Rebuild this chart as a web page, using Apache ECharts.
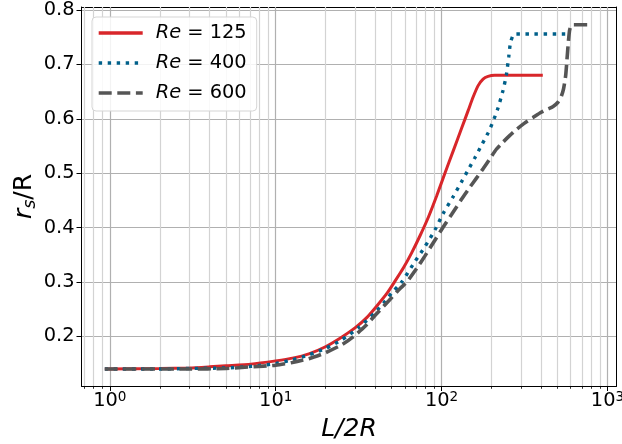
<!DOCTYPE html>
<html>
<head>
<meta charset="utf-8">
<script src="https://cdn.jsdelivr.net/npm/echarts@6/dist/echarts.min.js"></script>
<style>
html,body{margin:0;padding:0;background:#fff;}
#chart{width:622px;height:444px;}
</style>
</head>
<body>
<div id="chart"></div>
<script>
// ---- data ----
const seriesNames = ['125', '400', '600'];

const re125X = [0.933, 2.0, 3.02, 3.98, 5.01, 7.08, 10, 12.6, 15.85, 19.95, 25.1, 30.2, 35.5, 40.7, 46.8, 52.5, 58.9, 66.1, 74.1, 83.2, 93.3, 104.7, 117.5, 131.8, 144.5, 154.9, 166.0, 177.8, 190.5, 208.9, 407.4];
const re125Y = [0.140, 0.141, 0.142, 0.144, 0.146, 0.149, 0.155, 0.160, 0.168, 0.181, 0.199, 0.216, 0.235, 0.256, 0.279, 0.302, 0.326, 0.354, 0.385, 0.419, 0.458, 0.500, 0.541, 0.582, 0.615, 0.640, 0.661, 0.673, 0.678, 0.680, 0.680];

const re400X = [0.933, 2.0, 3.02, 5.01, 7.08, 10, 12.6, 15.85, 19.95, 25.1, 31.6, 39.8, 44.7, 50.1, 57.5, 69.2, 79.4, 91.2, 102.3, 117.5, 131.8, 144.5, 158.5, 173.8, 190.5, 204.2, 218.8, 234.4, 245.5, 254.1, 260.0, 269.2, 278.6, 575.4];
const re400Y = [0.140, 0.140, 0.141, 0.142, 0.145, 0.150, 0.157, 0.166, 0.178, 0.194, 0.216, 0.244, 0.261, 0.280, 0.300, 0.338, 0.365, 0.396, 0.426, 0.457, 0.484, 0.506, 0.528, 0.551, 0.574, 0.595, 0.620, 0.652, 0.680, 0.715, 0.740, 0.753, 0.756, 0.756];

const re600X = [0.933, 3.02, 5.01, 7.08, 10, 12.6, 15.85, 19.95, 25.1, 29.5, 34.7, 40.7, 47.9, 56.2, 61.7, 70.8, 79.4, 89.1, 102.3, 114.8, 131.8, 147.9, 162.2, 177.8, 195.0, 213.8, 234.4, 257.0, 281.8, 316.2, 354.8, 398.1, 436.5, 467.7, 501.2, 524.8, 543.3, 559.8, 570.2, 579.4, 590.2, 602.6, 623.7, 799.8];
const re600Y = [0.140, 0.140, 0.141, 0.144, 0.147, 0.152, 0.159, 0.170, 0.185, 0.200, 0.219, 0.242, 0.265, 0.288, 0.300, 0.325, 0.348, 0.372, 0.401, 0.424, 0.452, 0.474, 0.491, 0.508, 0.526, 0.544, 0.557, 0.569, 0.580, 0.592, 0.602, 0.612, 0.618, 0.622, 0.630, 0.640, 0.655, 0.680, 0.710, 0.737, 0.762, 0.771, 0.773, 0.773];

// tick positions
const majorTicksX = [1, 10, 100, 1000];
const minorTicksX = [0.7, 0.8, 0.9, 2, 3, 4, 5, 6, 7, 8, 9, 20, 30, 40, 50, 60, 70, 80, 90, 200, 300, 400, 500, 600, 700, 800, 900];
const ticksY = [0.2, 0.3, 0.4, 0.5, 0.6, 0.7, 0.8];

const xMin = 0.675, xMax = 1133;
const yMin = 0.1088, yMax = 0.8055;

const colors = ['#d8262a', '#00608a', '#555555'];

function zip(xs, ys) { return xs.map((x, i) => [x, ys[i]]); }

const FONT = 'DejaVu Sans';
const chart = echarts.init(document.getElementById('chart'), null, {renderer: 'canvas'});

function xLabel(v) {
  const l = Math.log10(v);
  const r = Math.round(l);
  if (Math.abs(l - r) > 1e-6) return '';
  return '{b|10}{s|' + r + '}';
}
function yLabel(v) {
  const t = v * 10;
  if (Math.abs(t - Math.round(t)) > 1e-6) return '';
  return v.toFixed(1);
}

const option = {
  animation: false,
  backgroundColor: '#ffffff',
  grid: {left: 81.5, right: 5.5, top: 7, bottom: 58, containLabel: false, outerBoundsMode: 'none'},
  legend: {
    left: 92, top: 17,
    orient: 'vertical',
    itemWidth: 44, itemHeight: 14, itemGap: 8,
    padding: [5, 10, 7, 5],
    backgroundColor: 'rgba(255,255,255,0.85)',
    borderColor: '#d5d5d5', borderWidth: 1, borderRadius: 4,
    data: seriesNames.map(n => 'Re = ' + n),
    itemStyle: {opacity: 0},
    lineStyle: {width: 3.4},
    formatter: function (name) { return '{i|Re} = ' + name.split('= ')[1]; },
    textStyle: {
      fontFamily: FONT, fontSize: 19.4, color: '#000', lineHeight: 22,
      padding: [0, 0, 0, 8],
      rich: {i: {fontFamily: FONT, fontSize: 19.4, fontStyle: 'italic', color: '#000', lineHeight: 22}}
    }
  },
  xAxis: [{
    type: 'log', logBase: 10, min: xMin, max: xMax,
    name: 'L/2R', nameLocation: 'middle', nameGap: 31, nameMoveOverlap: false,
    nameTextStyle: {fontFamily: FONT, fontSize: 25, fontStyle: 'italic', color: '#000'},
    axisLine: {show: true, onZero: false, lineStyle: {color: '#000', width: 1}},
    axisTick: {show: true, length: 5, customValues: majorTicksX, lineStyle: {color: '#000', width: 1}},
    axisLabel: {
      margin: 4, formatter: xLabel, color: '#000', customValues: majorTicksX,
      rich: {
        b: {fontFamily: FONT, fontSize: 19.4, lineHeight: 22, color: '#000'},
        s: {fontFamily: FONT, fontSize: 13.6, lineHeight: 10, verticalAlign: 'top', color: '#000'}
      }
    },
    splitLine: {show: true, lineStyle: {color: '#b0b0b0', width: 1.2}},
    z: 3
  }, {
    type: 'log', logBase: 10, min: xMin, max: xMax, position: 'bottom',
    axisLine: {show: false},
    axisTick: {show: true, length: 2.8, customValues: minorTicksX, lineStyle: {color: '#000', width: 0.8}},
    axisLabel: {show: false},
    splitLine: {show: true, lineStyle: {color: '#d3d3d3', width: 1.2}},
    z: 1
  }, {
    type: 'log', logBase: 10, min: xMin, max: xMax, position: 'top',
    axisLine: {show: true, onZero: false, lineStyle: {color: '#000', width: 1}},
    axisTick: {show: false}, axisLabel: {show: false}, splitLine: {show: false}
  }],
  yAxis: [{
    type: 'value', min: yMin, max: yMax,
    name: '{i|r}{s|s}{n|/R}', nameLocation: 'middle', nameGap: 42, nameRotate: 90, nameMoveOverlap: false,
    nameTextStyle: {
      color: '#000',
      rich: {
        i: {fontFamily: FONT, fontSize: 25, fontStyle: 'italic', lineHeight: 30, color: '#000'},
        s: {fontFamily: FONT, fontSize: 17.5, fontStyle: 'italic', lineHeight: 17, verticalAlign: 'bottom', color: '#000'},
        n: {fontFamily: FONT, fontSize: 25, lineHeight: 30, color: '#000'}
      }
    },
    axisLine: {show: true, onZero: false, lineStyle: {color: '#000', width: 1}},
    axisTick: {show: true, length: 5, customValues: ticksY, lineStyle: {color: '#000', width: 1}},
    axisLabel: {margin: 7, formatter: yLabel, customValues: ticksY, fontFamily: FONT, fontSize: 19.4, color: '#000'},
    splitLine: {show: true, lineStyle: {color: '#b0b0b0', width: 1.2}}
  }, {
    type: 'value', min: yMin, max: yMax, position: 'right',
    axisLine: {show: true, onZero: false, lineStyle: {color: '#000', width: 1}},
    axisTick: {show: false}, axisLabel: {show: false}, splitLine: {show: false}
  }],
  series: [
    {
      name: 'Re = ' + seriesNames[0], type: 'line', data: zip(re125X, re125Y),
      showSymbol: false, symbol: 'none', z: 3, smooth: 0.2,
      lineStyle: {color: colors[0], width: 3}, itemStyle: {color: colors[0]}
    },
    {
      name: 'Re = ' + seriesNames[1], type: 'line', data: zip(re400X, re400Y),
      showSymbol: false, symbol: 'none', z: 3, smooth: 0.2,
      lineStyle: {color: colors[1], width: 3.4, type: [3.4, 5.6], cap: 'butt'}, itemStyle: {color: colors[1]}
    },
    {
      name: 'Re = ' + seriesNames[2], type: 'line', data: zip(re600X, re600Y),
      showSymbol: false, symbol: 'none', z: 3, smooth: 0.2,
      lineStyle: {color: colors[2], width: 3.6, type: [13, 5.6], cap: 'butt'}, itemStyle: {color: colors[2]}
    }
  ]
};
chart.setOption(option);
</script>
</body>
</html>
